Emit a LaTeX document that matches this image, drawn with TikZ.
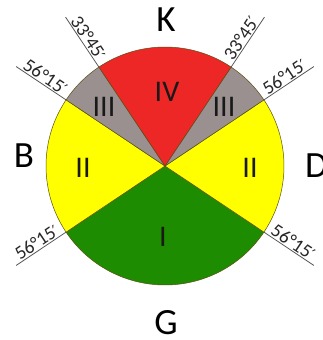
\documentclass[tikz,border=0pt]{standalone}
\usepackage{fontspec}
\setmainfont{Carlito}
\newfontfamily\primefont{DejaVu Sans}
\newcommand{\mypr}{{\primefont\fontsize{16}{20}\selectfont ′}}
\definecolor{cred}{RGB}{237,38,38}
\definecolor{cgrey}{RGB}{154,144,144}
\definecolor{cyellow}{RGB}{255,255,0}
\definecolor{cgreen}{RGB}{30,140,0}
\definecolor{cedge}{RGB}{90,80,20}
\begin{document}
\begin{tikzpicture}[x=1pt,y=1pt,
  sector/.style={draw=cedge,line width=0.5pt},
  tick/.style={draw=black!65,line width=0.8pt},
  anglbl/.style={font=\fontsize{19}{23}\selectfont,inner sep=1.2pt,anchor=south,text=black!85},
  roman/.style={font=\fontsize{30}{36}\selectfont,inner sep=0pt,text=black!90},
  side/.style={font=\fontsize{37}{44}\selectfont,inner sep=0pt}]
\useasboundingbox (0,0) rectangle (322,340);
\coordinate (O) at (165,174);
\def\R{119}
% sectors
\filldraw[sector,fill=cgreen] (O) -- ++(213.75:\R) arc[start angle=213.75,end angle=326.25,radius=\R] -- cycle;
\filldraw[sector,fill=cyellow] (O) -- ++(-33.75:\R) arc[start angle=-33.75,end angle=33.75,radius=\R] -- cycle;
\filldraw[sector,fill=cyellow] (O) -- ++(146.25:\R) arc[start angle=146.25,end angle=213.75,radius=\R] -- cycle;
\filldraw[sector,fill=cgrey] (O) -- ++(33.75:\R) arc[start angle=33.75,end angle=56.25,radius=\R] -- cycle;
\filldraw[sector,fill=cgrey] (O) -- ++(123.75:\R) arc[start angle=123.75,end angle=146.25,radius=\R] -- cycle;
\filldraw[sector,fill=cred] (O) -- ++(56.25:\R) arc[start angle=56.25,end angle=123.75,radius=\R] -- cycle;
% tick lines
\foreach \a/\n in {123.75/1,146.25/2,213.75/3,326.25/4,56.25/5,33.75/6}{
  \path (O) ++(\a:\R) coordinate (p\n) (O) ++(\a:179) coordinate (q\n) (O) ++(\a:149) coordinate (m\n);
  \draw[tick] (p\n) -- (q\n);
}
\node[anglbl,rotate=-56.25] (l1) at (m1) {33°45\mypr};
\node[anglbl,rotate=-33.75] (l2) at (m2) {56°15\mypr};
\node[anglbl,rotate=33.75] (l3) at (m3) {56°15\mypr};
\node[anglbl,rotate=-33.75] (l4) at (m4) {56°15\mypr};
\node[anglbl,rotate=56.25] (l5) at (m5) {33°45\mypr};
\node[anglbl,rotate=33.75] (l6) at (m6) {56°15\mypr};
% roman numerals
\node[roman] (iv) at (167,248) {IV};
\node[roman] (iiil) at (104,233) {III};
\node[roman] (iiir) at (224,233) {III};
\node[roman] (iil) at (83,172) {II};
\node[roman] (iir) at (250,172) {II};
\node[roman] (i) at (163,103) {I};
% side letters
\node[side] (K) at (166,320) {K};
\node[side] (B) at (24,184) {B};
\node[side,anchor=west] (D) at (305,174) {D};
\node[side] (G) at (166,17) {G};
\end{tikzpicture}
\end{document}
